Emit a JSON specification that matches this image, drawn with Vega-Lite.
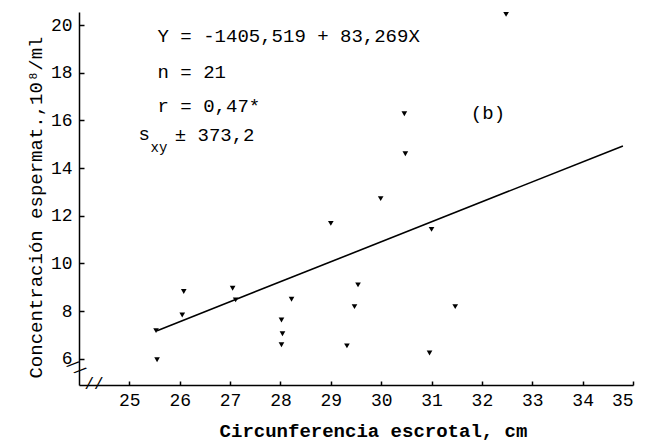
{
  "$schema": "https://vega.github.io/schema/vega-lite/v6.json",
  "width": 554,
  "height": 373,
  "autosize": {"type": "none"},
  "padding": {"left": 79, "top": 12, "right": 15, "bottom": 61},
  "background": "white",
  "config": {
    "view": {"stroke": null},
    "font": "Liberation Mono",
    "axis": {
      "grid": false,
      "domainColor": "black",
      "domainWidth": 1.5,
      "tickColor": "black",
      "tickWidth": 1.5,
      "labelFont": "Liberation Mono",
      "labelFontSize": 18,
      "labelColor": "black",
      "titleFont": "Liberation Mono",
      "titleFontSize": 19,
      "titleColor": "black"
    }
  },
  "datasets": {
    "pts": [
      {"cc": 25.53, "conc": 7.18},
      {"cc": 25.55, "conc": 5.96},
      {"cc": 26.05, "conc": 7.84},
      {"cc": 26.08, "conc": 8.82},
      {"cc": 27.05, "conc": 8.96},
      {"cc": 27.11, "conc": 8.47},
      {"cc": 28.02, "conc": 7.63},
      {"cc": 28.04, "conc": 7.05},
      {"cc": 28.02, "conc": 6.59},
      {"cc": 28.22, "conc": 8.5},
      {"cc": 29.0, "conc": 11.68},
      {"cc": 29.32, "conc": 6.54},
      {"cc": 29.47, "conc": 8.19},
      {"cc": 29.54, "conc": 9.1},
      {"cc": 29.99, "conc": 12.72},
      {"cc": 30.46, "conc": 16.28},
      {"cc": 30.48, "conc": 14.6},
      {"cc": 30.96, "conc": 6.24},
      {"cc": 31.0, "conc": 11.43},
      {"cc": 31.47, "conc": 8.19},
      {"cc": 32.48, "conc": 20.45}
    ],
    "fit": [
      {"cc": 25.55, "conc": 7.18},
      {"cc": 34.8, "conc": 14.93}
    ],
    "notes": [
      {"t": "Y = -1405,519 + 83,269X", "cc": 25.56, "conc": 19.54},
      {"t": "n = 21", "cc": 25.56, "conc": 18.03},
      {"t": "r = 0,47*", "cc": 25.56, "conc": 16.6},
      {"t": "s", "cc": 25.18, "conc": 15.45},
      {"t": "± 373,2", "cc": 25.9, "conc": 15.4},
      {"t": "(b)", "cc": 31.78, "conc": 16.3}
    ],
    "subs": [
      {"t": "xy", "cc": 25.42, "conc": 14.85}
    ],
    "ybreak": [
      {"t": "//", "cc": 23.94, "conc": 5.62}
    ],
    "xbreak": [
      {"t": "//", "cc": 24.3, "conc": 4.95}
    ]
  },
  "encoding": {
    "x": {
      "field": "cc",
      "type": "quantitative",
      "scale": {"domain": [24, 35], "nice": false, "zero": false},
      "axis": {
        "values": [25, 26, 27, 28, 29, 30, 31, 32, 33, 34, 35],
        "tickSize": -4,
        "labelPadding": 10,
        "title": "Circunferencia escrotal, cm",
        "titleFontWeight": "bold",
        "titleX": 294,
        "titleY": 45,
        "titleBaseline": "middle"
      }
    },
    "y": {
      "field": "conc",
      "type": "quantitative",
      "scale": {"domain": [4.9, 20.55], "nice": false, "zero": false},
      "axis": {
        "values": [6, 8, 10, 12, 14, 16, 18, 20],
        "tickSize": -5,
        "labelPadding": 12,
        "title": "Concentración espermat.,10⁸/ml",
        "titleFontWeight": "normal",
        "titleX": -44,
        "titleY": 195,
        "titleBaseline": "middle",
        "titleAngle": -90
      }
    }
  },
  "layer": [
    {
      "data": {"name": "fit"},
      "mark": {"type": "line", "color": "black", "strokeWidth": 1.6}
    },
    {
      "data": {"name": "pts"},
      "mark": {"type": "point", "shape": "triangle-down", "filled": true, "color": "black", "size": 32, "opacity": 1}
    },
    {
      "data": {"name": "notes"},
      "mark": {"type": "text", "align": "left", "baseline": "middle", "font": "Liberation Mono", "fontSize": 19, "color": "black"},
      "encoding": {"text": {"field": "t"}}
    },
    {
      "data": {"name": "subs"},
      "mark": {"type": "text", "align": "left", "baseline": "middle", "font": "Liberation Mono", "fontSize": 14, "color": "black"},
      "encoding": {"text": {"field": "t"}}
    },
    {
      "data": {"name": "ybreak"},
      "mark": {"type": "text", "align": "center", "baseline": "middle", "font": "Liberation Mono", "fontSize": 16, "angle": 40, "color": "black"},
      "encoding": {"text": {"field": "t"}}
    },
    {
      "data": {"name": "xbreak"},
      "mark": {"type": "text", "align": "center", "baseline": "middle", "font": "Liberation Mono", "fontSize": 16, "color": "black"},
      "encoding": {"text": {"field": "t"}}
    }
  ]
}
